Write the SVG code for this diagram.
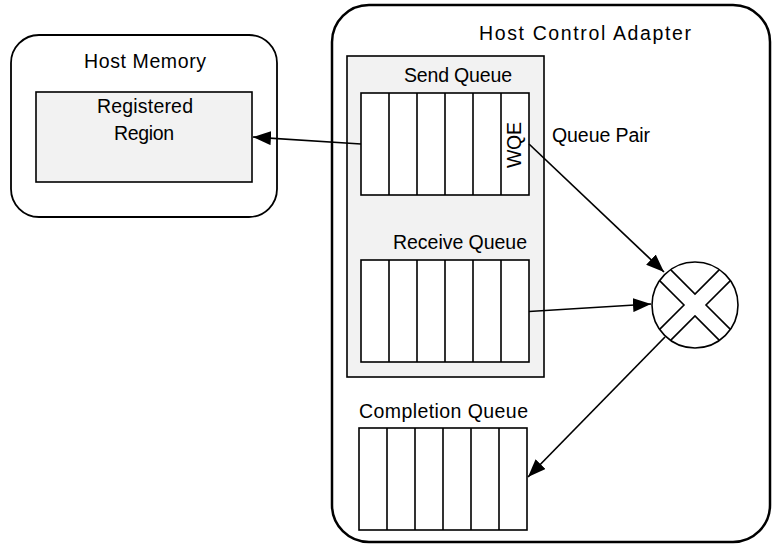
<svg xmlns="http://www.w3.org/2000/svg" width="772" height="544" viewBox="0 0 772 544">
<style>
  text { font-family: "Liberation Sans", Arial, sans-serif; font-size: 19.5px; fill: #000; }
  .outer { fill: #fff; stroke: #000; }
  .gray { fill: #f2f2f2; stroke: #000; stroke-width: 1.6; }
  .cell { fill: #fff; stroke: #000; stroke-width: 1.6; }
  .div { stroke: #000; stroke-width: 1.6; }
  .conn { stroke: #000; stroke-width: 1.7; fill: none; marker-end: url(#arrow); }
</style>
<defs>
  <marker id="arrow" viewBox="0 0 18 14" refX="18" refY="7" markerWidth="18" markerHeight="14" markerUnits="userSpaceOnUse" orient="auto">
    <path d="M0,0 L18,7 L0,14 Z" fill="#000"/>
  </marker>
  <g id="cells">
    <rect class="cell" x="0" y="0" width="168" height="102"/>
    <path class="div" d="M28,0V102M56,0V102M84,0V102M112,0V102M140,0V102"/>
  </g>
</defs>

<g id="host-memory">
  <rect class="outer" x="11" y="35" width="266" height="182" rx="28" ry="28" stroke-width="1.8"/>
  <text x="84" y="67.5" textLength="122" lengthAdjust="spacing">Host Memory</text>
</g>
<g id="registered-region">
  <rect class="gray" x="36" y="92" width="216" height="90"/>
  <text x="97" y="113" textLength="96" lengthAdjust="spacing">Registered</text>
  <text x="114" y="140" textLength="60" lengthAdjust="spacing">Region</text>
</g>

<g id="host-control-adapter">
  <rect class="outer" x="332" y="5" width="438" height="537" rx="37" ry="37" stroke-width="2.5"/>
  <text x="479" y="39.5" textLength="212" lengthAdjust="spacing">Host Control Adapter</text>
</g>

<g id="queue-pair">
  <rect class="gray" x="347" y="56" width="197" height="321"/>
  <text x="552" y="141.5" textLength="98" lengthAdjust="spacing">Queue Pair</text>
</g>

<g id="send-queue">
  <text x="404" y="82" textLength="108" lengthAdjust="spacing">Send Queue</text>
  <use href="#cells" x="361" y="93"/>
  <text transform="translate(521,168) rotate(-90)" x="0" y="0" textLength="46" lengthAdjust="spacing">WQE</text>
</g>

<g id="receive-queue">
  <text x="393" y="249" textLength="134" lengthAdjust="spacing">Receive Queue</text>
  <use href="#cells" x="361" y="260"/>
</g>

<g id="completion-queue">
  <text x="359" y="418" textLength="169" lengthAdjust="spacing">Completion Queue</text>
  <use href="#cells" x="359" y="428"/>
</g>

<g id="switch" transform="translate(695,305)">
  <circle cx="0" cy="0" r="43" fill="#fff" stroke="#000" stroke-width="1.6"/>
  <path d="M-24.4,-35.4 L0,-11 L24.4,-35.4 M-24.4,35.4 L0,11 L24.4,35.4 M-35.4,-24.4 L-11,0 L-35.4,24.4 M35.4,-24.4 L11,0 L35.4,24.4" fill="none" stroke="#000" stroke-width="1.6"/>
</g>

<g id="connectors">
  <line class="conn" x1="361" y1="144" x2="253" y2="137"/>
  <line class="conn" x1="529" y1="144" x2="664" y2="272"/>
  <line class="conn" x1="529" y1="311.5" x2="651" y2="304"/>
  <line class="conn" x1="665" y1="337" x2="528" y2="477"/>
</g>
</svg>
